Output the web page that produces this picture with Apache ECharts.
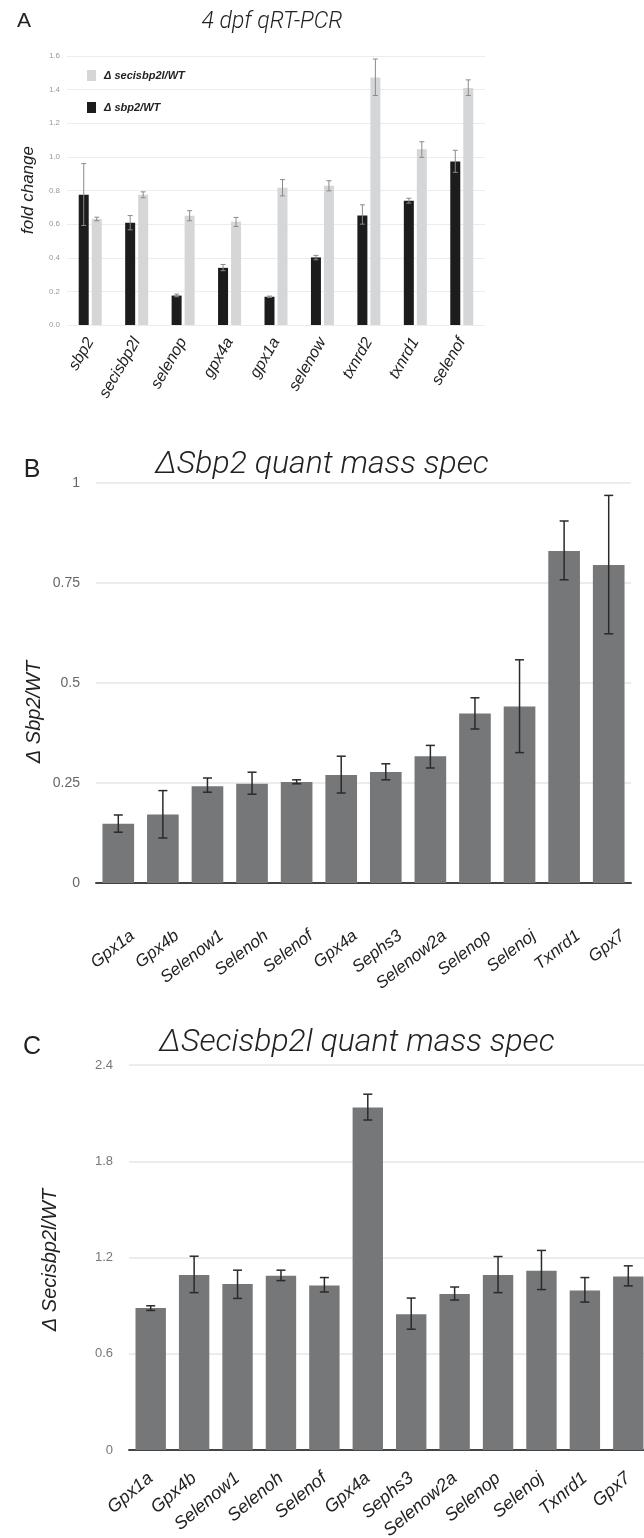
<!DOCTYPE html>
<html>
<head>
<meta charset="utf-8">
<script src="https://cdn.jsdelivr.net/npm/echarts@6/dist/echarts.min.js"></script>
<style>
  html, body { margin: 0; padding: 0; background: #fff; }
  #chart { width: 644px; height: 1538px; }
</style>
</head>
<body>
<div id="chart"></div>
<script>
// panel A - 4 dpf qRT-PCR (fold change)
var aGenes = ['sbp2', 'secisbp2l', 'selenop', 'gpx4a', 'gpx1a', 'selenow', 'txnrd2', 'txnrd1', 'selenof'];
var aSbp2 = [0.775, 0.608, 0.175, 0.340, 0.168, 0.402, 0.652, 0.739, 0.973];
var aSbp2Lo = [0.592, 0.566, 0.168, 0.323, 0.164, 0.388, 0.600, 0.725, 0.908];
var aSbp2Hi = [0.960, 0.651, 0.184, 0.360, 0.172, 0.414, 0.715, 0.754, 1.039];
var aSecis = [0.630, 0.774, 0.650, 0.614, 0.817, 0.828, 1.472, 1.045, 1.410];
var aSecisLo = [0.620, 0.757, 0.620, 0.586, 0.768, 0.798, 1.365, 0.997, 1.365];
var aSecisHi = [0.641, 0.792, 0.680, 0.640, 0.865, 0.858, 1.582, 1.090, 1.458];
var aTicks = [0, 0.2, 0.4, 0.6, 0.8, 1.0, 1.2, 1.4, 1.6];

// panel B - dSbp2 quant mass spec
var bProteins = ['Gpx1a', 'Gpx4b', 'Selenow1', 'Selenoh', 'Selenof', 'Gpx4a', 'Sephs3', 'Selenow2a', 'Selenop', 'Selenoj', 'Txnrd1', 'Gpx7'];
var bVals = [0.148, 0.171, 0.242, 0.248, 0.2525, 0.270, 0.2775, 0.317, 0.424, 0.441, 0.830, 0.795];
var bLo = [0.127, 0.1125, 0.227, 0.222, 0.248, 0.225, 0.258, 0.2875, 0.385, 0.326, 0.758, 0.623];
var bHi = [0.170, 0.231, 0.2625, 0.277, 0.258, 0.317, 0.298, 0.344, 0.463, 0.558, 0.905, 0.969];
var bTicks = [0, 0.25, 0.5, 0.75, 1];

// panel C - dSecisbp2l quant mass spec
var cProteins = ['Gpx1a', 'Gpx4b', 'Selenow1', 'Selenoh', 'Selenof', 'Gpx4a', 'Sephs3', 'Selenow2a', 'Selenop', 'Selenoj', 'Txnrd1', 'Gpx7'];
var cVals = [0.885, 1.091, 1.035, 1.087, 1.025, 2.135, 0.847, 0.972, 1.091, 1.118, 0.995, 1.081];
var cLo = [0.870, 0.981, 0.945, 1.056, 0.985, 2.057, 0.753, 0.935, 0.981, 1.000, 0.922, 1.023];
var cHi = [0.899, 1.208, 1.121, 1.121, 1.075, 2.218, 0.947, 1.016, 1.206, 1.244, 1.075, 1.148];
var cTicks = [0, 0.6, 1.2, 1.8, 2.4];

var FONT = 'Liberation Sans';

// error bars drawn on top of the bars (shift = px offset from category centre)
function errBars (xi, lo, hi, shift, color, lw, cap) {
  return {
    type: 'custom',
    xAxisIndex: xi,
    yAxisIndex: xi,
    z: 5,
    silent: true,
    data: lo.map(function (v, i) { return [i, v, hi[i]]; }),
    encode: { x: 0, y: [1, 2] },
    renderItem: function (params, api) {
      var p1 = api.coord([api.value(0), api.value(1)]);
      var p2 = api.coord([api.value(0), api.value(2)]);
      var x = p1[0] + shift;
      var st = { stroke: color, lineWidth: lw };
      return {
        type: 'group',
        children: [
          { type: 'line', shape: { x1: x, y1: p1[1], x2: x, y2: p2[1] }, style: st },
          { type: 'line', shape: { x1: x - cap, y1: p1[1], x2: x + cap, y2: p1[1] }, style: st },
          { type: 'line', shape: { x1: x - cap, y1: p2[1], x2: x + cap, y2: p2[1] }, style: st }
        ]
      };
    }
  };
}

function valueAxis (idx, ticks, opts) {
  return {
    type: 'value',
    gridIndex: idx,
    min: ticks[0],
    max: ticks[ticks.length - 1],
    interval: ticks[1] - ticks[0],
    axisLine: { show: false },
    axisTick: { show: false },
    axisLabel: opts.label,
    splitLine: { lineStyle: { color: opts.split, width: opts.splitW } }
  };
}

function text (x, y, str, size, extra) {
  var style = {
    text: str,
    fill: '#222',
    fontSize: size,
    fontFamily: FONT,
    textAlign: 'center',
    textVerticalAlign: 'middle'
  };
  for (var k in extra) style[k] = extra[k];
  return { type: 'text', x: x, y: y, style: style };
}

function vtext (x, y, str, size) {
  return {
    type: 'text', x: x, y: y, rotation: Math.PI / 2,
    style: { text: str, fill: '#222', fontSize: size, fontStyle: 'italic', fontFamily: FONT, textAlign: 'center', textVerticalAlign: 'middle' }
  };
}

var chart = echarts.init(document.getElementById('chart'));

var option = {
  backgroundColor: '#fff',
  animation: false,
  textStyle: { fontFamily: FONT },
  grid: [
    { left: 67, top: 56, width: 418, height: 269, outerBoundsMode: 'none' },
    { left: 96, top: 483, width: 535, height: 400, outerBoundsMode: 'none' },
    { left: 129, top: 1065, width: 521, height: 385, outerBoundsMode: 'none' }
  ],
  legend: {
    data: ['Δ secisbp2l/WT', 'Δ sbp2/WT'],
    orient: 'vertical',
    left: 82,
    top: 65,
    itemWidth: 9,
    itemHeight: 11,
    itemGap: 21,
    icon: 'rect',
    selectedMode: false,
    textStyle: { fontSize: 11, fontStyle: 'italic', fontWeight: 'bold', color: '#222', padding: [0, 0, 0, 3] }
  },
  xAxis: [
    {
      type: 'category', gridIndex: 0, data: aGenes,
      axisLine: { show: false }, axisTick: { show: false },
      axisLabel: { interval: 0, rotate: 60, margin: 14, fontSize: 16, fontStyle: 'italic', color: '#222' }
    },
    {
      type: 'category', gridIndex: 1, data: bProteins,
      axisLine: { lineStyle: { color: '#444', width: 2 } }, axisTick: { show: false },
      axisLabel: { interval: 0, rotate: 38, margin: 62, padding: [0, -18, 0, 0], fontSize: 17, fontStyle: 'italic', color: '#222' }
    },
    {
      type: 'category', gridIndex: 2, data: cProteins,
      axisLine: { lineStyle: { color: '#444', width: 2 } }, axisTick: { show: false },
      axisLabel: { interval: 0, rotate: 40, margin: 26, fontSize: 18, fontStyle: 'italic', color: '#222' }
    }
  ],
  yAxis: [
    valueAxis(0, aTicks, {
      label: { fontSize: 8, color: '#999', margin: 7, formatter: function (v) { return v.toFixed(1); } },
      split: '#ececec', splitW: 1
    }),
    valueAxis(1, bTicks, {
      label: { fontSize: 14, color: '#666', margin: 16 },
      split: '#e6e6e6', splitW: 1.5
    }),
    valueAxis(2, cTicks, {
      label: { fontSize: 13, color: '#777', margin: 16 },
      split: '#e6e6e6', splitW: 1.5
    })
  ],
  series: [
    {
      name: 'Δ sbp2/WT', type: 'bar', xAxisIndex: 0, yAxisIndex: 0,
      data: aSbp2, barWidth: 10, barGap: '30%',
      itemStyle: { color: '#1c1c1c' }
    },
    {
      name: 'Δ secisbp2l/WT', type: 'bar', xAxisIndex: 0, yAxisIndex: 0,
      data: aSecis, barWidth: 10, barGap: '30%',
      itemStyle: { color: '#d5d6d8' }
    },
    errBars(0, aSbp2Lo, aSbp2Hi, -6.5, '#8a8a8a', 1, 2.5),
    errBars(0, aSecisLo, aSecisHi, 6.5, '#8a8a8a', 1, 2.5),
    {
      type: 'bar', xAxisIndex: 1, yAxisIndex: 1,
      data: bVals, barWidth: '71%',
      itemStyle: { color: '#767779' }
    },
    errBars(1, bLo, bHi, 0, '#2a2a2a', 1.5, 4.5),
    {
      type: 'bar', xAxisIndex: 2, yAxisIndex: 2,
      data: cVals, barWidth: '70%',
      itemStyle: { color: '#767779' }
    },
    errBars(2, cLo, cHi, 0, '#2a2a2a', 1.5, 4.5)
  ],
  graphic: [
    text(24, 21, 'A', 21, {}),
    text(272, 22, '4 dpf qRT-PCR', 23, { fontStyle: 'italic', fontWeight: 300, fontFamily: 'Roboto' }),
    vtext(28, 190, 'fold change', 17),

    text(32, 470, 'B', 25, {}),
    text(322, 465, 'ΔSbp2 quant mass spec', 32, { fontStyle: 'italic', fontWeight: 300, fontFamily: 'Roboto' }),
    vtext(34, 712, 'Δ Sbp2/WT', 20),

    text(32, 1047, 'C', 25, {}),
    text(357, 1043, 'ΔSecisbp2l quant mass spec', 32, { fontStyle: 'italic', fontWeight: 300, fontFamily: 'Roboto' }),
    vtext(50, 1260, 'Δ Secisbp2l/WT', 20)
  ]
};

chart.setOption(option);
</script>
</body>
</html>
